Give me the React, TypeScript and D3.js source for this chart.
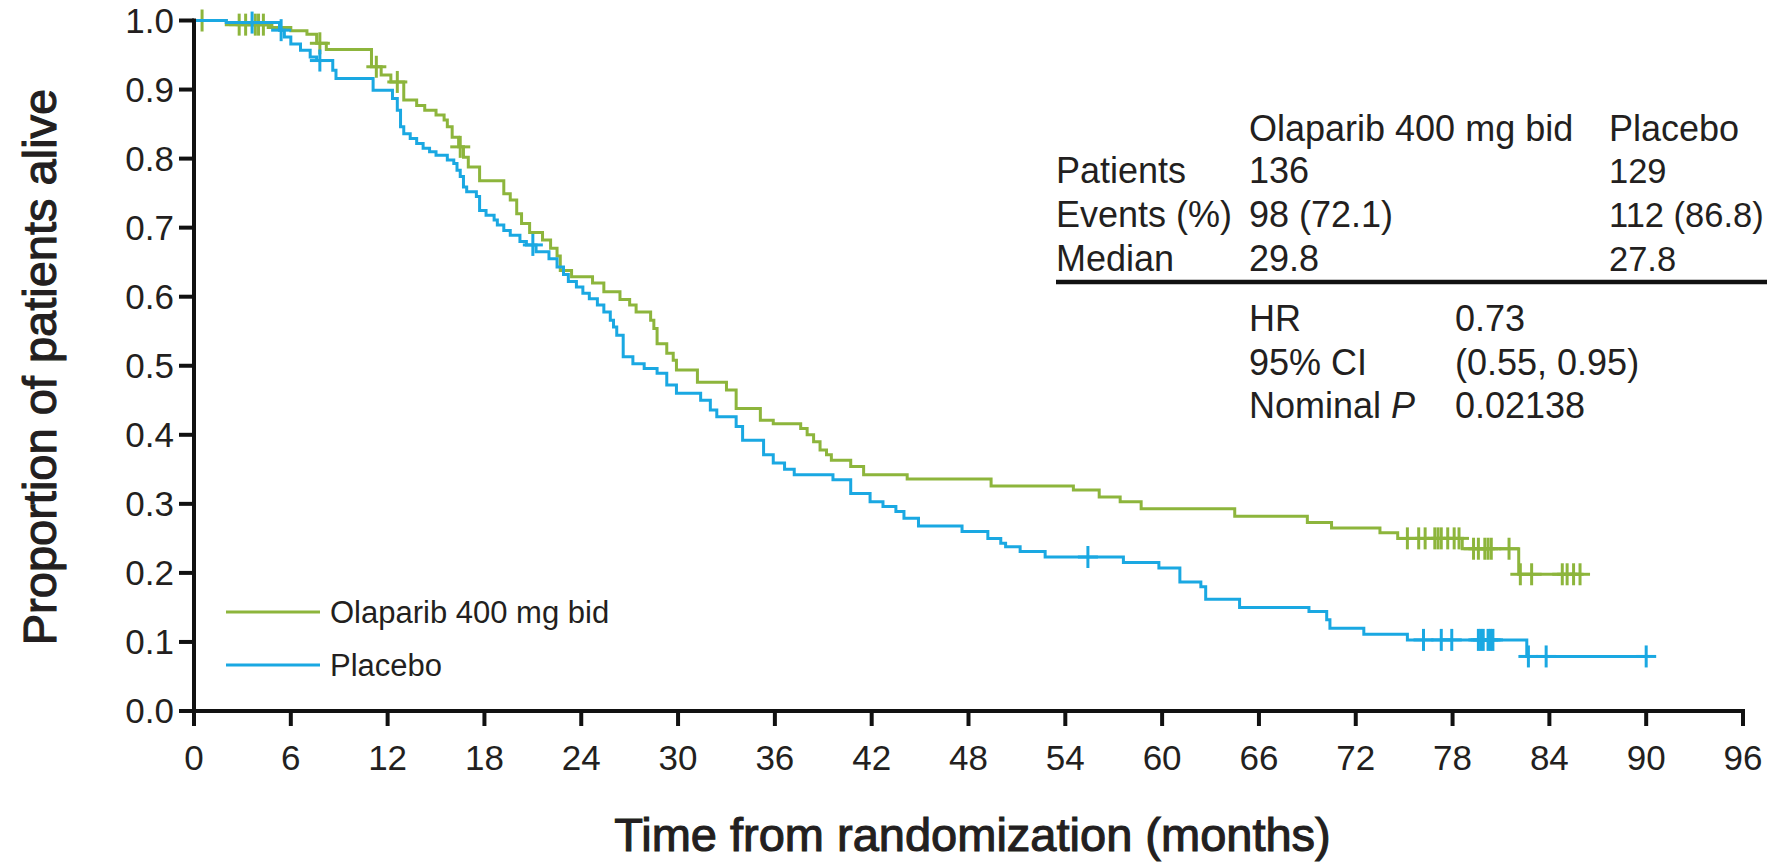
import React from "react";
import * as d3 from "d3";

// ---------- data ----------
const xTicks = [0, 6, 12, 18, 24, 30, 36, 42, 48, 54, 60, 66, 72, 78, 84, 90, 96];
const yTicks = [0, 0.1, 0.2, 0.3, 0.4, 0.5, 0.6, 0.7, 0.8, 0.9, 1.0];

const seriesNames = ["Olaparib 400 mg bid", "Placebo"];

// Kaplan-Meier steps: [time (months), survival after the step]
const olaparibSteps: [number, number][] = [
  [0, 1.0], [2.0, 0.994], [4.6, 0.99], [6.0, 0.985], [7.0, 0.98], [7.6, 0.967], [8.2, 0.958],
  [11.0, 0.933], [11.6, 0.921], [12.2, 0.911], [13.0, 0.885], [13.8, 0.877], [14.3, 0.87],
  [15.0, 0.863], [15.5, 0.856], [15.7, 0.846], [16.0, 0.831], [16.4, 0.817], [16.7, 0.802],
  [17.0, 0.788], [17.7, 0.768], [19.2, 0.749], [19.6, 0.74], [20.0, 0.72], [20.3, 0.706],
  [20.8, 0.693], [21.6, 0.682], [22.1, 0.67], [22.5, 0.659], [22.7, 0.638], [23.4, 0.629],
  [24.7, 0.62], [25.4, 0.607], [26.4, 0.596], [27.0, 0.588], [27.4, 0.578], [28.3, 0.566],
  [28.5, 0.554], [28.7, 0.532], [29.3, 0.518], [29.7, 0.508], [29.9, 0.494], [31.2, 0.476],
  [33.0, 0.465], [33.6, 0.438], [35.1, 0.421], [35.9, 0.416], [37.6, 0.409], [38.0, 0.4],
  [38.4, 0.39], [38.8, 0.378], [39.2, 0.371], [39.5, 0.363], [40.7, 0.354], [41.5, 0.342],
  [44.2, 0.336], [49.4, 0.326], [54.5, 0.32], [56.1, 0.31], [57.4, 0.303], [58.7, 0.293],
  [64.5, 0.282], [69.0, 0.273], [70.5, 0.265], [73.5, 0.258], [74.6, 0.25], [78.6, 0.235],
  [82.1, 0.198],
];
const olaparibCensored = [
  0.5, 2.8, 3.2, 3.8, 4.0, 4.3, 7.8, 11.3, 12.6, 16.5, 75.2, 75.9, 76.3, 76.9, 77.1, 77.3,
  77.7, 78.1, 78.4, 79.3, 79.6, 80.0, 80.2, 80.4, 81.5, 82.2, 82.9, 84.8, 85.1, 85.5, 85.9,
];

const placeboSteps: [number, number][] = [
  [0, 1.0], [2.0, 0.997], [5.3, 0.986], [5.6, 0.976], [6.0, 0.966], [6.6, 0.957], [7.2, 0.947],
  [7.6, 0.942], [8.6, 0.928], [8.8, 0.916], [11.1, 0.899], [12.3, 0.887], [12.6, 0.87],
  [12.8, 0.846], [13.0, 0.836], [13.4, 0.829], [13.8, 0.822], [14.2, 0.815], [14.6, 0.81],
  [15.0, 0.805], [15.7, 0.798], [16.1, 0.793], [16.3, 0.783], [16.5, 0.774], [16.7, 0.759],
  [16.9, 0.752], [17.5, 0.745], [17.7, 0.725], [18.1, 0.718], [18.6, 0.711], [18.8, 0.704],
  [19.2, 0.696], [19.6, 0.689], [20.2, 0.68], [20.6, 0.675], [21.2, 0.665], [22.0, 0.655],
  [22.5, 0.643], [22.9, 0.632], [23.2, 0.622], [23.7, 0.614], [24.1, 0.605], [24.5, 0.597],
  [25.0, 0.588], [25.4, 0.578], [25.8, 0.566], [26.0, 0.556], [26.2, 0.544], [26.6, 0.513],
  [27.2, 0.503], [27.9, 0.496], [28.7, 0.489], [29.3, 0.472], [29.9, 0.46], [31.4, 0.45],
  [32.0, 0.436], [32.4, 0.426], [33.6, 0.412], [34.0, 0.392], [35.3, 0.371], [35.9, 0.359],
  [36.6, 0.35], [37.2, 0.342], [39.6, 0.335], [40.7, 0.315], [41.9, 0.303], [42.7, 0.296],
  [43.5, 0.289], [44.0, 0.279], [44.9, 0.268], [47.6, 0.26], [49.2, 0.25], [50.0, 0.243],
  [50.3, 0.238], [51.2, 0.231], [52.75, 0.223], [57.6, 0.215], [59.8, 0.207], [61.1, 0.187],
  [62.4, 0.18], [62.7, 0.162], [64.8, 0.15], [69.1, 0.144], [70.2, 0.132], [70.4, 0.12],
  [72.5, 0.111], [75.2, 0.103], [82.6, 0.079],
];
const placeboCensored = [
  3.6, 5.4, 7.8, 21.0, 55.4, 76.2, 77.3, 77.95, 79.6, 79.75, 79.9, 80.2, 80.35, 80.5, 82.7,
  83.8, 90.0,
];

const tableHeaders = ["Olaparib 400 mg bid", "Placebo"];
const rowLabels = ["Patients", "Events (%)", "Median"];
const olaparibValues = ["136", "98 (72.1)", "29.8"];
const placeboValues = ["129", "112 (86.8)", "27.8"];
const statLabels = ["HR", "95% CI", "Nominal"];
const statValues = ["0.73", "(0.55, 0.95)", "0.02138"];

const GREEN = "#8db53c";
const BLUE = "#1aa8e2";
const INK = "#231f20";
const FONT = "'Liberation Sans', Arial, Helvetica, sans-serif";

function survivalAt(steps: [number, number][], t: number) {
  let s = steps[0][1];
  for (const [tt, ss] of steps) {
    if (tt <= t) s = ss;
    else break;
  }
  return s;
}

export default function App() {
  const W = 1767;
  const H = 862;
  const x = d3.scaleLinear().domain([0, 96]).range([194, 1743]);
  const y = d3.scaleLinear().domain([0, 1]).range([711, 20.5]);

  const line = d3
    .line<[number, number]>()
    .x((d) => x(d[0]))
    .y((d) => y(d[1]))
    .curve(d3.curveStepAfter);

  const series = [
    { name: seriesNames[0], steps: olaparibSteps, cens: olaparibCensored, color: GREEN },
    { name: seriesNames[1], steps: placeboSteps, cens: placeboCensored, color: BLUE },
  ];

  const tickLen = 15;
  const cv = 11;
  const ch = 10;

  return (
    <svg
      width={W}
      height={H}
      style={{ position: "absolute", left: 0, top: 0, display: "block", background: "#fff" }}
      fontFamily={FONT}
    >
      <rect x={0} y={0} width={W} height={H} fill="#fff" />

      {/* curves */}
      {series.map((s) => {
        const last = s.steps[s.steps.length - 1];
        const end = Math.max(last[0], d3.max(s.cens) as number);
        const pts: [number, number][] = [...s.steps, [end, last[1]]];
        return (
          <g key={s.name}>
            <path d={line(pts) || ""} fill="none" stroke={s.color} strokeWidth={3} />
            {s.cens.map((t, i) => {
              const cx = x(t);
              const cy = y(survivalAt(s.steps, t));
              return (
                <g key={i} stroke={s.color} strokeWidth={3}>
                  <line x1={cx} x2={cx} y1={cy - cv} y2={cy + cv} />
                  <line x1={cx - ch} x2={cx + ch} y1={cy} y2={cy} />
                </g>
              );
            })}
          </g>
        );
      })}

      {/* axes */}
      <g stroke="#111" strokeWidth={4}>
        <line x1={x(0)} x2={x(0)} y1={y(0) + 2} y2={y(1) - 2} />
        <line x1={x(0) - 2} x2={x(96) + 2} y1={y(0)} y2={y(0)} />
        {yTicks.map((v) => (
          <line key={"yt" + v} x1={x(0) - tickLen} x2={x(0)} y1={y(v)} y2={y(v)} />
        ))}
        {xTicks.map((v) => (
          <line key={"xt" + v} x1={x(v)} x2={x(v)} y1={y(0)} y2={y(0) + tickLen} />
        ))}
      </g>
      {yTicks.map((v) => (
        <text
          key={"yl" + v}
          x={x(0) - tickLen - 5}
          y={y(v)}
          dy="0.35em"
          textAnchor="end"
          fontSize={35}
          fill={INK}
        >
          {v.toFixed(1)}
        </text>
      ))}
      {xTicks.map((v) => (
        <text key={"xl" + v} x={x(v)} y={770} textAnchor="middle" fontSize={35} fill={INK}>
          {v}
        </text>
      ))}

      {/* axis titles */}
      <text
        x={(x(0) + x(96)) / 2 + 4}
        y={851}
        textAnchor="middle"
        fontSize={47}
        fill={INK}
        stroke={INK}
        strokeWidth={1.1}
      >
        Time from randomization (months)
      </text>
      <text
        transform={`translate(56, 367) rotate(-90)`}
        textAnchor="middle"
        fontSize={47}
        fill={INK}
        stroke={INK}
        strokeWidth={1.1}
      >
        Proportion of patients alive
      </text>

      {/* legend */}
      {series.map((s, i) => (
        <g key={"lg" + i}>
          <line x1={226} x2={320} y1={612 + i * 53} y2={612 + i * 53} stroke={s.color} strokeWidth={3} />
          <text x={330} y={612 + i * 53} dy="0.35em" fontSize={31} fill={INK}>
            {s.name}
          </text>
        </g>
      ))}

      {/* table */}
      <g fontSize={36} fill={INK}>
        <text x={1249} y={141}>{tableHeaders[0]}</text>
        <text x={1609} y={141}>{tableHeaders[1]}</text>
        {rowLabels.map((r, i) => (
          <g key={"row" + i}>
            <text x={1056} y={183 + i * 44}>{r}</text>
            <text x={1249} y={183 + i * 44}>{olaparibValues[i]}</text>
            <text x={1609} y={183 + i * 44} fontSize={34.5}>{placeboValues[i]}</text>
          </g>
        ))}
        <line x1={1056} x2={1767} y1={282} y2={282} stroke="#111" strokeWidth={4.5} />
        {statLabels.map((r, i) => (
          <g key={"st" + i}>
            <text x={1249} y={331 + i * 43.5}>
              {r}
              {i === 2 ? <tspan fontStyle="italic"> P</tspan> : null}
            </text>
            <text x={1455} y={331 + i * 43.5}>{statValues[i]}</text>
          </g>
        ))}
      </g>
    </svg>
  );
}
